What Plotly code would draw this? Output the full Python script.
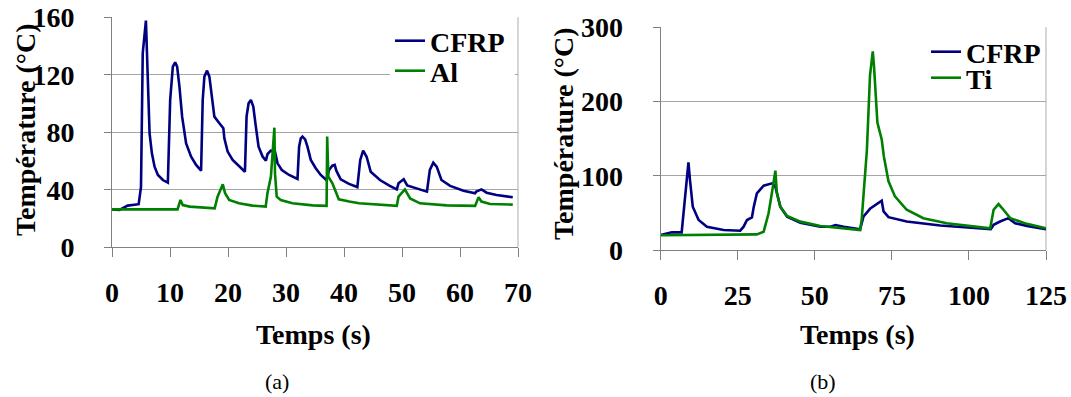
import plotly.graph_objects as go

# ---------------- data: panel (a) ----------------
t_cfrp_a = [0, 1.3, 2.7, 4.6, 5.0, 5.3, 5.85, 6.02, 6.19, 6.48, 6.88, 7.34, 7.91, 8.77, 9.63,
            9.8, 10.03, 10.49, 10.89, 11.23, 11.63, 12.09, 12.78, 13.64, 14.5, 15.36,
            15.64, 15.93, 16.39, 16.79, 17.36, 17.65, 18.51, 19.2, 19.37, 19.94, 20.8, 21.95, 22.92,
            23.2, 23.55, 23.95, 24.36, 24.8, 25.27, 25.96, 26.53,
            26.82, 27.39, 28.08, 28.54, 29.28, 30.54, 31.98,
            32.26, 32.55, 32.84, 33.3, 33.7, 34.27, 35.13, 35.99, 36.96,
            37.42, 37.99, 38.4, 38.68, 39.43, 40.86, 42.3,
            42.8, 43.3, 43.9, 44.6, 46.2, 47.9, 49.1,
            49.4, 50.3, 50.9, 52.5, 54.3,
            54.8, 55.4, 56.0, 56.8, 58.3, 60.6, 62.6,
            62.8, 63.7, 64.6, 66.3, 69.1]
T_cfrp_a = [26.4, 26.0, 29.0, 30.0, 42.0, 135.0, 157.7, 137.3, 104.8, 79.3, 65.4, 56.1, 50.3, 46.8, 45.0,
            79.3, 102.5, 125.7, 128.7, 125.7, 111.8, 90.9, 72.3, 63.1, 57.3, 53.3,
            102.5, 118.7, 122.9, 118.7, 97.9, 90.9, 86.3, 82.8, 75.8, 66.6, 60.8, 56.1, 52.6,
            90.9, 100.2, 102.5, 97.9, 83.9, 70.0, 63.1, 60.3,
            64.9, 67.2, 67.0, 58.4, 53.8, 50.3, 47.5,
            70.0, 75.8, 77.0, 75.1, 70.0, 60.8, 55.0, 50.3, 46.8,
            53.8, 56.8, 57.3, 53.3, 47.3, 44.1, 41.9,
            60.8, 67.2, 63.0, 52.6, 46.8, 42.7, 40.3,
            44.5, 47.3, 43.0, 40.8, 38.7,
            53.8, 58.9, 56.0, 46.8, 42.7, 39.4, 37.6,
            38.7, 40.3, 38.0, 36.4, 34.8]

t_al = [0, 11.3, 11.8, 12.2, 13.4, 17.7, 18.2, 19.1, 19.5, 20.2, 21.9, 24.2, 26.5,
        26.8, 27.4, 27.7, 28.0, 28.1, 28.4, 29.1, 31.1, 34.6, 37.0,
        37.1, 37.3, 38.0, 38.6, 39.1, 40.9, 42.6, 49.1,
        49.4, 50.5, 51.4, 53.1, 57.7, 62.6, 63.2, 63.7, 65.2, 69.1]
T_al = [26.4, 26.4, 32.9, 29.4, 28.3, 27.1, 35.2, 43.8, 37.6, 32.9, 30.6, 29.0, 28.3,
        37.6, 49.2, 67.7, 83.2, 51.5, 35.2, 32.9, 30.6, 29.2, 28.8,
        77.0, 49.2, 44.5, 38.7, 33.4, 31.8, 30.6, 28.8,
        35.2, 40.3, 34.0, 30.6, 29.2, 28.8, 34.8, 31.8, 30.1, 29.7]

# ---------------- data: panel (b) ----------------
t_cfrp_b = [0, 2.5, 3.6, 6.8, 7.9, 9.0, 9.5, 10.4, 12.3, 15.0, 20.4, 25.8, 26.9, 28.0, 29.6, 30.2,
            31.2, 33.4, 36.1, 37.2, 38.8, 41.0, 45.3, 51.8, 55.1, 56.7, 59.4, 64.7, 65.8, 67.9,
            71.7, 72.3, 73.9, 79.8, 90.7, 101.5, 107.1, 108.0, 110.1, 112.8, 115.0, 118.8, 125]
T_cfrp_b = [20.2, 22.5, 23.8, 23.8, 67.4, 118.0, 94.3, 58.4, 40.4, 31.4, 26.9, 26.0, 31.4, 40.4, 44.0, 58.4,
            76.3, 86.7, 89.8, 85.3, 58.4, 44.9, 36.8, 31.4, 31.4, 33.7, 31.4, 28.0, 45.1, 55.5,
            66.4, 51.9, 44.2, 38.4, 33.0, 30.2, 28.0, 33.9, 38.4, 42.9, 36.1, 32.5, 28.0]

t_ti = [0, 31.2, 33.4, 35.0, 36.4, 37.2, 37.7, 38.8, 41.0, 45.3, 51.8, 58.2, 64.7, 65.2, 66.9,
        67.9, 68.8, 69.2, 69.9, 70.3, 71.7, 72.4, 73.9, 76.0, 79.8, 85.2, 92.8, 101.5, 106.9,
        108.0, 109.6, 111.2, 113.4, 118.8, 125]
T_ti = [19.8, 21.1, 24.7, 49.4, 85.3, 106.9, 76.3, 58.4, 45.8, 38.2, 32.3, 30.0, 27.0, 40.6, 135.0,
        234.8, 267.7, 248.0, 203.0, 171.6, 149.0, 126.0, 92.6, 72.2, 54.2, 42.9, 36.1, 31.6, 29.3,
        54.2, 61.9, 54.2, 42.9, 35.2, 29.3]

x_ticks_a = [0, 10, 20, 30, 40, 50, 60, 70]
y_ticks_a = [0, 40, 80, 120, 160]
x_ticks_b = [0, 25, 50, 75, 100, 125]
y_ticks_b = [0, 100, 200, 300]

# ---------------- styling ----------------
W, H = 1071, 397
BLUE = "#000080"
GREEN = "#008000"
SERIF = "Liberation Serif, Times New Roman, serif"
bold = dict(family=SERIF, size=28, color="black", weight="bold")


def px_x(p):
    return p / W


def px_y(p):
    return 1 - p / H


fig = go.Figure()
fig.add_trace(go.Scatter(x=t_cfrp_a, y=T_cfrp_a, name="CFRP", mode="lines",
                         line=dict(color=BLUE, width=2.6), xaxis="x", yaxis="y", legend="legend2"))
fig.add_trace(go.Scatter(x=t_al, y=T_al, name="Al", mode="lines",
                         line=dict(color=GREEN, width=2.6), xaxis="x", yaxis="y", legend="legend"))
fig.add_trace(go.Scatter(x=t_cfrp_b, y=T_cfrp_b, name="CFRP", mode="lines",
                         line=dict(color=BLUE, width=2.6), xaxis="x2", yaxis="y2", legend="legend3"))
fig.add_trace(go.Scatter(x=t_ti, y=T_ti, name="Ti", mode="lines",
                         line=dict(color=GREEN, width=2.6), xaxis="x2", yaxis="y2", legend="legend4"))

xcommon = dict(showgrid=False, zeroline=False, showline=True, linecolor="#808080", linewidth=1,
               ticks="outside", ticklen=9, tickcolor="#808080", tickfont=bold,
               ticklabelstandoff=11, automargin=False)
ycommon = dict(showgrid=True, gridcolor="#a6a6a6", gridwidth=1, zeroline=False, showline=True,
               linecolor="#808080", linewidth=1, ticks="outside", ticklen=7, tickcolor="#808080",
               tickfont=bold, ticklabelstandoff=24, automargin=False)


def leg(x_left, y_mid, bg="rgba(0,0,0,0)", **kw):
    return dict(x=px_x(x_left), y=px_y(y_mid), xanchor="left", yanchor="middle", bgcolor=bg,
                font=bold, borderwidth=0, tracegroupgap=0, **kw)


fig.update_layout(
    width=W, height=H, autosize=False,
    margin=dict(l=0, r=0, t=0, b=0, pad=0, autoexpand=False),
    paper_bgcolor="white", plot_bgcolor="white",
    showlegend=True,
    xaxis=dict(domain=[px_x(112), px_x(518)], range=[0, 70], tickvals=x_ticks_a, anchor="y", **xcommon),
    yaxis=dict(domain=[px_y(247.3), px_y(17.3)], range=[0, 160], tickvals=y_ticks_a, anchor="x", **ycommon),
    xaxis2=dict(domain=[px_x(660.7), px_x(1046)], range=[0, 125], tickvals=x_ticks_b, anchor="y2", **xcommon),
    yaxis2=dict(domain=[px_y(250), px_y(27.3)], range=[0, 300], tickvals=y_ticks_b, anchor="x2", **ycommon),
    # Al legend (white box hiding the gridline behind it), CFRP legend drawn above it
    legend=leg(390, 71, bg="white", orientation="h", entrywidth=80, entrywidthmode="pixels"),
    legend2=leg(390, 41),
    legend3=leg(926, 52),
    legend4=leg(926, 78),
)

# light gray right-hand frame lines of both plot areas
for xr, yr in (("x domain", "y domain"), ("x2 domain", "y2 domain")):
    fig.add_shape(type="line", xref=xr, yref=yr, x0=1, x1=1, y0=0, y1=1,
                  line=dict(color="#c8c8c8", width=1.5), layer="below")

ann = []
# axis titles
ann.append(dict(text="Température (°C)", x=px_x(25), y=px_y(130), textangle=-90, font=bold))
ann.append(dict(text="Température (°C)", x=px_x(563), y=px_y(134), textangle=-90, font=bold))
ann.append(dict(text="Temps (s)", x=px_x(313), y=px_y(334), font=bold))
ann.append(dict(text="Temps (s)", x=px_x(857), y=px_y(334), font=bold))
# captions
cap = dict(family=SERIF, size=22, color="black")
ann.append(dict(text="(a)", x=px_x(277), y=px_y(381), font=cap))
ann.append(dict(text="(b)", x=px_x(823), y=px_y(381), font=cap))
for a in ann:
    a.update(xref="paper", yref="paper", showarrow=False, xanchor="center", yanchor="middle")
fig.update_layout(annotations=ann)

fig.write_html(
    "out.html",
    config={"displayModeBar": False},
    post_script="document.body.style.margin='0';document.body.style.padding='0';"
                "document.body.style.overflow='hidden';",
)
